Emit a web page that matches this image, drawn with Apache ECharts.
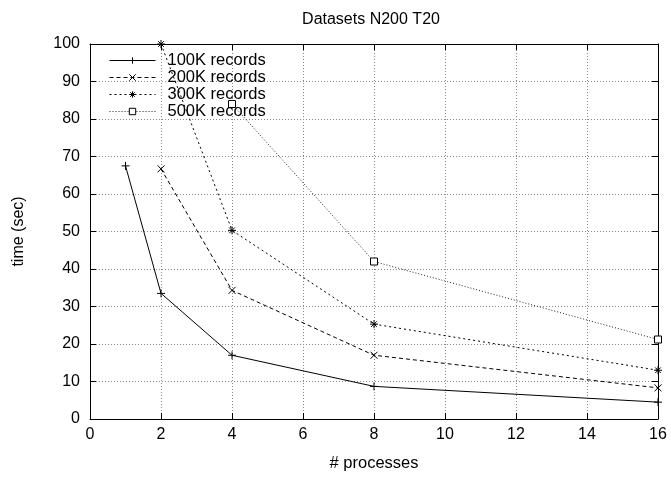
<!DOCTYPE html>
<html>
<head>
<meta charset="utf-8">
<script src="https://cdn.jsdelivr.net/npm/echarts@6/dist/echarts.min.js"></script>
<style>
html,body{margin:0;padding:0;background:#fff;}
#chart{width:671px;height:477px;}
</style>
</head>
<body>
<div id="chart"></div>
<script>
const titleText = 'Datasets N200 T20';
const xName = '# processes';
const yName = 'time (sec)';
const seriesNames = ['100K records', '200K records', '300K records', '500K records'];
const data100K = [[1, 67.5], [2, 33.5], [4, 17.0], [8, 8.7], [16, 4.5]];
const data200K = [[2, 66.7], [4, 34.3], [8, 17.0], [16, 8.3]];
const data300K = [[2, 100], [4, 50.3], [8, 25.3], [16, 13.0]];
const data500K = [[4, 84.0], [8, 42.0], [16, 21.2]];

const FONT = '"Liberation Sans", Arial, Helvetica, sans-serif';
const plus = 'path://M0,5L10,5M5,0L5,10';
const cross = 'path://M0,0L10,10M0,10L10,0';
const star = 'path://M0,5L10,5M5,0L5,10M1.5,1.5L8.5,8.5M1.5,8.5L8.5,1.5';
const square = 'path://M0,0L10,0L10,10L0,10Z';

function mkSeries(name, data, symbol, size, lineType, color, width, fill) {
  return {
    name: name, type: 'line', data: data,
    xAxisIndex: 0, yAxisIndex: 0,
    symbol: symbol, symbolSize: size,
    showSymbol: true, animation: false,
    lineStyle: {color: color, width: width, type: lineType},
    itemStyle: {color: fill, borderColor: '#000', borderWidth: 1},
    emphasis: {disabled: true}
  };
}

const chart = echarts.init(document.getElementById('chart'), null, {renderer: 'canvas'});
const gridLine = {show: true, lineStyle: {color: '#888', width: 1, type: [1, 2]}};
chart.setOption({
  animation: false,
  backgroundColor: '#fff',
  textStyle: {fontFamily: FONT},
  graphic: [{
    type: 'text', x: 371, y: 20, silent: true,
    style: {text: titleText, font: '16px ' + FONT, fill: '#000', align: 'center', verticalAlign: 'middle'}
  }],
  grid: {left: 90, right: 13, top: 44, bottom: 54, containLabel: false},
  legend: {
    orient: 'vertical', left: 109, top: 52, padding: 0,
    itemWidth: 46, itemHeight: 8, itemGap: 0,
    lineStyle: {width: 1},
    itemStyle: {borderWidth: 1},
    textStyle: {fontFamily: FONT, fontSize: 16.5, color: '#000', lineHeight: 17, padding: [0, 0, 0, 7]},
    data: seriesNames
  },
  xAxis: [{
    type: 'value', position: 'bottom', min: 0, max: 16, interval: 2,
    name: xName, nameLocation: 'middle', nameGap: 36,
    nameTextStyle: {fontFamily: FONT, fontSize: 16.5, color: '#000'},
    axisLine: {show: true, lineStyle: {color: '#000', width: 1}},
    axisTick: {show: true, inside: true, length: 6, lineStyle: {color: '#000'}},
    axisLabel: {fontFamily: FONT, fontSize: 16, color: '#000', margin: 8},
    splitLine: gridLine
  }, {
    type: 'value', position: 'top', min: 0, max: 16, interval: 2,
    axisLine: {show: true, onZero: false, lineStyle: {color: '#000', width: 1}},
    axisTick: {show: true, inside: true, length: 6, lineStyle: {color: '#000'}},
    axisLabel: {show: false}, splitLine: {show: false}
  }],
  yAxis: [{
    type: 'value', position: 'left', min: 0, max: 100, interval: 10,
    name: yName, nameLocation: 'middle', nameGap: 63, nameRotate: 90,
    nameTextStyle: {fontFamily: FONT, fontSize: 16, color: '#000'},
    axisLine: {show: true, lineStyle: {color: '#000', width: 1}},
    axisTick: {show: true, inside: true, length: 6, lineStyle: {color: '#000'}},
    axisLabel: {fontFamily: FONT, fontSize: 16, color: '#000', margin: 10},
    splitLine: gridLine
  }, {
    type: 'value', position: 'right', min: 0, max: 100, interval: 10,
    axisLine: {show: true, onZero: false, lineStyle: {color: '#000', width: 1}},
    axisTick: {show: true, inside: true, length: 6, lineStyle: {color: '#000'}},
    axisLabel: {show: false}, splitLine: {show: false}
  }],
  series: [
    mkSeries(seriesNames[0], data100K, plus, 8, 'solid', '#000', 1, '#000'),
    mkSeries(seriesNames[1], data200K, cross, 7, [4, 3], '#000', 1, '#000'),
    mkSeries(seriesNames[2], data300K, star, 8, [2, 3], '#000', 1, '#000'),
    mkSeries(seriesNames[3], data500K, square, 7, [1, 2], '#222', 1, '#fff')
  ]
});
</script>
</body>
</html>
